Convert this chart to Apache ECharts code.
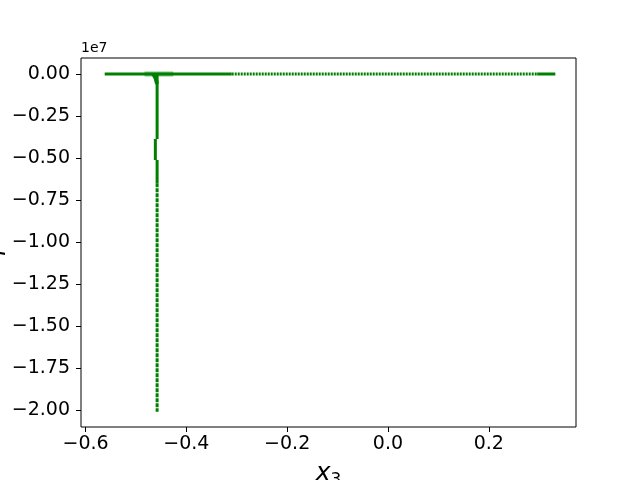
<!DOCTYPE html>
<html>
<head>
<meta charset="utf-8">
<script src="https://cdn.jsdelivr.net/npm/echarts@6/dist/echarts.min.js"></script>
<style>html,body{margin:0;padding:0;background:#fff}#c{width:640px;height:480px}</style>
</head>
<body>
<div id="c"></div>
<script>
// Tick labels
const xTicks = [-0.6, -0.4, -0.2, 0.0, 0.2];
const yTicks = [0, -2.5e6, -5e6, -7.5e6, -1e7, -1.25e7, -1.5e7, -1.75e7, -2e7];
// Trajectory pieces (x3, value)
const hSolidLeft = [[-0.562, 0], [-0.31, 0]];
const hDotted = [[-0.31, 0], [0.296, 0]];
const hSolidRight = [[0.296, 0], [0.332, 0]];
const hLight = [[-0.483, 0], [-0.426, 0]];
const hookTop = [[-0.466, 0.02e6], [-0.461, -0.25e6], [-0.458, -0.6e6]];
const vUpper = [[-0.458, 0], [-0.458, -3.87e6]];
const vShift = [[-0.4615, -3.87e6], [-0.4615, -5.12e6]];
const vMid = [[-0.458, -5.12e6], [-0.458, -6.5e6]];
const vDotted = [[-0.458, -6.5e6], [-0.458, -2.01e7]];

const G = '#008000';
function seg(data, opts) {
  opts = opts || {};
  return {
    type: 'line', data: data, showSymbol: false, symbol: 'none', silent: true,
    z: opts.z || 2,
    lineStyle: { color: opts.color || G, width: opts.width || 3, type: opts.type || 'solid', opacity: opts.opacity == null ? 1 : opts.opacity, cap: 'butt' },
    animation: false
  };
}
const fmtMinus = v => String(v).replace('-', '\u2212');
const chart = echarts.init(document.getElementById('c'), null, { renderer: 'canvas' });
chart.setOption({
  animation: false,
  textStyle: { fontFamily: 'DejaVu Sans' },
  grid: { left: 81, right: 64, top: 58, bottom: 53, containLabel: false, outerBoundsMode: 'none',
    show: true, borderColor: '#000', borderWidth: 1, backgroundColor: 'transparent' },
  xAxis: {
    type: 'value', min: -0.609, max: 0.373,
    axisLine: { show: false, onZero: false },
    splitLine: { show: false },
    axisTick: { show: true, inside: false, length: 5, lineStyle: { color: '#000' }, customValues: xTicks },
    axisLabel: { color: '#000', fontSize: 19, margin: 8, fontFamily: 'DejaVu Sans', customValues: xTicks,
      formatter: v => fmtMinus((Math.round(v * 10) / 10 === 0 ? 0 : Math.round(v * 10) / 10).toFixed(1)) },
    name: '{i|x}{s|3}', nameLocation: 'middle', nameGap: 31,
    nameTextStyle: { rich: { i: { fontSize: 25, fontStyle: 'italic', fontFamily: 'DejaVu Sans', color: '#000' }, s: { fontSize: 17, fontFamily: 'DejaVu Sans', color: '#000', verticalAlign: 'bottom', padding: [14, 0, 0, 0] } } }
  },
  yAxis: {
    type: 'value', min: -2.101e7, max: 0.095e7,
    axisLine: { show: false, onZero: false },
    splitLine: { show: false },
    axisTick: { show: true, inside: false, length: 5, lineStyle: { color: '#000' }, customValues: yTicks },
    axisLabel: { color: '#000', fontSize: 19, margin: 11, fontFamily: 'DejaVu Sans', customValues: yTicks,
      formatter: v => { const s = (v / 1e7).toFixed(2); return s === '-0.00' ? '0.00' : fmtMinus(s); } }
  },
  graphic: [
    { type: 'text', left: 81, top: 41, style: { text: '1e7', fontSize: 14, fill: '#000', fontFamily: 'DejaVu Sans' } },
    { type: 'text', x: -7, y: 242, rotation: Math.PI / 2,
      style: { text: 'p\u2083', fontSize: 25, fontStyle: 'italic', fill: '#000', fontFamily: 'DejaVu Sans', align: 'center', verticalAlign: 'middle' } }
  ],
  series: [
    seg(hLight, { width: 5, color: '#66b366', opacity: 0.8, z: 1 }),
    seg(hSolidLeft),
    seg(hDotted, { type: [2, 1] }),
    seg(hSolidRight),
    seg(hookTop, { width: 4 }),
    seg(vUpper),
    seg(vShift),
    seg(vMid),
    seg(vDotted, { type: [4, 1] })
  ]
});
</script>
</body>
</html>
